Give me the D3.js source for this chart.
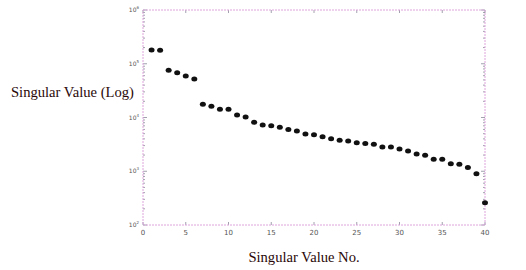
<!DOCTYPE html>
<html>
<head>
<meta charset="utf-8">
<script src="https://cdn.jsdelivr.net/npm/d3@7"></script>
<style>
  body { margin: 0; background: #fff; }
  svg { display: block; }
</style>
</head>
<body>
<svg width="526" height="270"></svg>
<script>
// singular value index and magnitude
const index = d3.range(1, 41)
const values = [
  180000, 178000, 76000, 68000, 59000, 52000, 17600, 16200, 14200, 14200,
  11100, 10200, 8150, 7250, 7000, 6560, 6000, 5600, 4930, 4790,
  4400, 4030, 3760, 3660, 3400, 3300, 3170, 2830, 2830, 2600,
  2380, 2090, 1980, 1670, 1670, 1380, 1350, 1180, 900, 260
]
const xTicks = [0, 5, 10, 15, 20, 25, 30, 35, 40]
const yDecades = [2, 3, 4, 5, 6]

let svg = d3.select("svg"),
    margin = {top: 10, right: 41, bottom: 45, left: 143},
    width = +svg.attr("width") - margin.left - margin.right,
    height = +svg.attr("height") - margin.top - margin.bottom

let x = d3.scaleLinear().domain([0, 40]).range([0, width])
let y = d3.scaleLog().domain([100, 1e6]).range([height, 0])

let g = svg.append("g").attr("transform", "translate(" + margin.left + "," + margin.top + ")")

const frame = "#dca4dc"
const tickCol = "#8a8a9a"

// minor + major y ticks
let yMinor = []
yDecades.slice(0, -1).forEach(function (k) {
    for (let m = 2; m <= 9; m++) yMinor.push(m * Math.pow(10, k))
})

g.selectAll(".yminL").data(yMinor).enter().append("line")
    .attr("x1", 0).attr("x2", 2)
    .attr("y1", d => y(d)).attr("y2", d => y(d))
    .attr("stroke", tickCol).attr("stroke-width", 0.8)
g.selectAll(".yminR").data(yMinor).enter().append("line")
    .attr("x1", width).attr("x2", width - 2)
    .attr("y1", d => y(d)).attr("y2", d => y(d))
    .attr("stroke", tickCol).attr("stroke-width", 0.8)
g.selectAll(".ymajL").data(yDecades).enter().append("line")
    .attr("x1", 0).attr("x2", 4)
    .attr("y1", d => y(Math.pow(10, d))).attr("y2", d => y(Math.pow(10, d)))
    .attr("stroke", tickCol).attr("stroke-width", 0.8)
g.selectAll(".ymajR").data(yDecades).enter().append("line")
    .attr("x1", width).attr("x2", width - 4)
    .attr("y1", d => y(Math.pow(10, d))).attr("y2", d => y(Math.pow(10, d)))
    .attr("stroke", tickCol).attr("stroke-width", 0.8)

// x ticks top and bottom
g.selectAll(".xb").data(xTicks).enter().append("line")
    .attr("x1", d => x(d)).attr("x2", d => x(d))
    .attr("y1", height).attr("y2", height - 3)
    .attr("stroke", tickCol).attr("stroke-width", 0.8)
g.selectAll(".xt").data(xTicks).enter().append("line")
    .attr("x1", d => x(d)).attr("x2", d => x(d))
    .attr("y1", 0).attr("y2", 3)
    .attr("stroke", tickCol).attr("stroke-width", 0.8)

// frame
g.append("rect")
    .attr("x", 0).attr("y", 0)
    .attr("width", width).attr("height", height)
    .attr("fill", "none")
    .attr("stroke", frame)
    .attr("stroke-width", 1)
    .attr("stroke-dasharray", "2,1")

// tick labels
g.selectAll(".xl").data(xTicks).enter().append("text")
    .attr("x", d => x(d)).attr("y", height + 10)
    .attr("text-anchor", "middle")
    .style("font-family", "DejaVu Sans, sans-serif")
    .style("font-size", "7px")
    .attr("fill", "#555")
    .text(d => d)

let yl = g.selectAll(".yl").data(yDecades).enter().append("text")
    .attr("x", -4).attr("y", d => y(Math.pow(10, d)) + 2)
    .attr("text-anchor", "end")
    .style("font-family", "DejaVu Sans, sans-serif")
    .style("font-size", "6px")
    .attr("fill", "#555")
yl.append("tspan").text("10")
yl.append("tspan").attr("dy", -3).style("font-size", "4px").text(d => d)

// points
g.selectAll(".pt").data(index).enter().append("ellipse")
    .attr("cx", d => x(d))
    .attr("cy", (d, i) => y(values[i]))
    .attr("rx", 3).attr("ry", 2.5)
    .attr("fill", "#111")

// axis titles
svg.append("text")
    .attr("x", 11).attr("y", 97)
    .style("font-family", "Liberation Serif, Times New Roman, serif")
    .style("font-size", "14.6px")
    .attr("fill", "#2a0808")
    .text("Singular Value (Log)")

svg.append("text")
    .attr("x", 304).attr("y", 262)
    .attr("text-anchor", "middle")
    .style("font-family", "Liberation Serif, Times New Roman, serif")
    .style("font-size", "14.6px")
    .attr("fill", "#2a0808")
    .text("Singular Value No.")
</script>
</body>
</html>
